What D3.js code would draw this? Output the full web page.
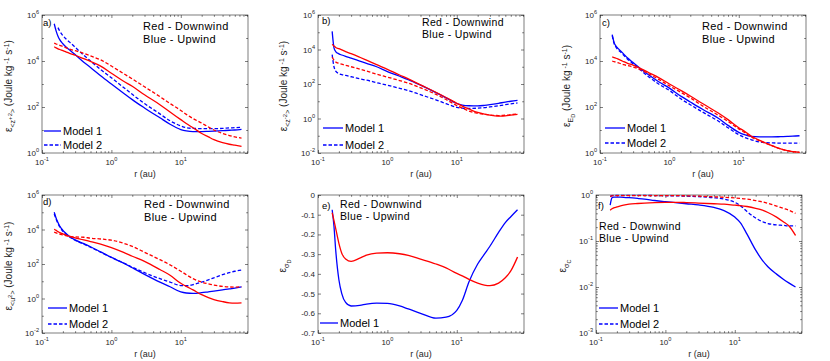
<!DOCTYPE html>
<html><head><meta charset="utf-8">
<script src="https://cdn.jsdelivr.net/npm/d3@7"></script>
<style>
body{margin:0;background:#fff}
svg{display:block}
text{font-family:"Liberation Sans",Arial,Helvetica,sans-serif}
</style>
</head><body>
<svg id="c" width="830" height="361"></svg>
<script>
// ---------------- data ----------------
// heliocentric distance r (au)
const R = [0.15,0.16,0.17,0.18,0.2,0.22,0.25,0.3,0.4,0.5,0.7,1,1.5,2,3,5,7,10,12,15,20,25,30,40,50,60,75];
const xTickExps = [-1, 0, 1];

// log10 of epsilon values (Up = blue / upwind, Dn = red / downwind)
const aUp1 = [5.62,5.3,5.08,4.93,4.75,4.62,4.48,4.28,3.95,3.72,3.36,3.0,2.6,2.32,1.96,1.53,1.25,1.02,0.96,0.93,0.93,0.94,0.95,0.97,0.99,1.0,1.03];
const aUp2 = [null,null,5.45,5.3,5.1,4.97,4.82,4.6,4.25,4.0,3.63,3.27,2.85,2.55,2.15,1.7,1.4,1.18,1.1,1.07,1.06,1.06,1.06,1.07,1.09,1.1,1.12];
const aDn1 = [4.62,4.57,4.53,4.5,4.45,4.4,4.33,4.25,4.1,3.98,3.78,3.47,3.12,2.9,2.53,2.1,1.78,1.45,1.28,1.1,0.85,0.7,0.58,0.45,0.38,0.34,0.29];
const aDn2 = [4.78,4.74,4.71,4.68,4.63,4.58,4.52,4.45,4.33,4.22,4.05,3.78,3.45,3.22,2.88,2.45,2.15,1.85,1.68,1.5,1.3,1.13,1.0,0.85,0.76,0.7,0.65];

const bUp1 = [null,5.05,4.1,3.88,3.75,3.68,3.6,3.5,3.33,3.2,3.0,2.72,2.45,2.25,1.93,1.5,1.2,0.87,0.78,0.74,0.73,0.76,0.8,0.88,0.95,1.0,1.05];
const bUp2 = [null,3.7,3.0,2.75,2.6,2.55,2.5,2.42,2.3,2.22,2.08,1.93,1.75,1.62,1.38,1.08,0.86,0.65,0.6,0.58,0.6,0.63,0.67,0.74,0.8,0.85,0.9];
const bDn1 = [null,4.3,4.2,4.12,4.05,3.98,3.88,3.76,3.55,3.38,3.12,2.85,2.52,2.3,1.95,1.52,1.22,0.88,0.72,0.55,0.35,0.25,0.19,0.14,0.15,0.19,0.24];
const bDn2 = [null,3.55,3.38,3.28,3.2,3.15,3.08,3.0,2.86,2.75,2.57,2.4,2.2,2.05,1.78,1.4,1.1,0.75,0.6,0.43,0.3,0.24,0.2,0.17,0.19,0.22,0.27];

const cUp1 = [5.15,4.8,4.65,4.56,4.43,4.3,4.13,3.93,3.62,3.4,3.1,2.82,2.45,2.22,1.9,1.52,1.2,0.9,0.8,0.72,0.7,0.7,0.7,0.71,0.72,0.73,0.75];
const cUp2 = [5.1,4.75,4.6,4.5,4.38,4.25,4.08,3.88,3.56,3.32,3.0,2.72,2.33,2.1,1.78,1.4,1.1,0.8,0.68,0.58,0.48,0.45,0.44,0.43,0.43,0.43,0.43];
const cDn1 = [4.18,4.15,4.12,4.09,4.03,3.97,3.9,3.82,3.65,3.5,3.28,3.0,2.7,2.48,2.15,1.75,1.45,1.1,0.95,0.74,0.55,0.42,0.32,0.18,0.1,0.06,0.03];
const cDn2 = [4.0,3.97,3.95,3.93,3.88,3.84,3.8,3.74,3.6,3.45,3.2,2.92,2.62,2.4,2.05,1.65,1.37,1.05,0.9,0.7,0.53,0.41,0.32,0.18,0.1,0.06,0.03];

const dUp1 = [5.0,4.65,4.4,4.2,3.95,3.78,3.6,3.4,3.18,3.0,2.7,2.38,2.05,1.78,1.4,0.95,0.68,0.38,0.32,0.3,0.34,0.39,0.43,0.5,0.56,0.6,0.67];
const dUp2 = [4.9,4.6,4.35,4.15,3.9,3.74,3.57,3.38,3.15,2.97,2.68,2.38,2.06,1.82,1.5,1.15,0.95,0.75,0.74,0.8,0.95,1.08,1.2,1.38,1.5,1.58,1.65];
const dDn1 = [4.02,3.95,3.88,3.82,3.75,3.68,3.6,3.52,3.4,3.3,3.15,2.95,2.67,2.45,2.15,1.68,1.35,0.88,0.7,0.5,0.22,0.05,-0.06,-0.18,-0.25,-0.27,-0.25];
const dDn2 = [3.85,3.8,3.76,3.73,3.69,3.65,3.6,3.57,3.55,3.5,3.45,3.38,3.2,3.02,2.68,2.25,1.95,1.58,1.38,1.15,0.95,0.85,0.78,0.7,0.67,0.66,0.68];

// panel e is linear
const eUp1 = [null,-0.075,-0.16,-0.28,-0.43,-0.5,-0.545,-0.563,-0.56,-0.553,-0.548,-0.55,-0.563,-0.578,-0.6,-0.625,-0.62,-0.585,-0.535,-0.44,-0.35,-0.3,-0.26,-0.19,-0.14,-0.11,-0.075];
const eDn1 = [null,-0.09,-0.13,-0.17,-0.245,-0.295,-0.325,-0.337,-0.32,-0.305,-0.295,-0.293,-0.298,-0.306,-0.325,-0.35,-0.37,-0.398,-0.41,-0.428,-0.447,-0.457,-0.46,-0.447,-0.42,-0.385,-0.315];

const fUp1 = [null,-0.22,-0.06,-0.045,-0.045,-0.047,-0.05,-0.058,-0.075,-0.09,-0.12,-0.145,-0.17,-0.19,-0.215,-0.27,-0.34,-0.48,-0.6,-0.85,-1.2,-1.42,-1.56,-1.72,-1.83,-1.91,-2.0];
const fUp2 = [null,-0.035,-0.015,-0.01,-0.01,-0.01,-0.01,-0.01,-0.01,-0.01,-0.012,-0.015,-0.02,-0.025,-0.035,-0.06,-0.09,-0.16,-0.23,-0.36,-0.5,-0.58,-0.62,-0.65,-0.66,-0.67,-0.67];
const fDn1 = [null,-0.33,-0.3,-0.28,-0.26,-0.24,-0.22,-0.2,-0.185,-0.175,-0.165,-0.16,-0.16,-0.165,-0.175,-0.19,-0.2,-0.22,-0.23,-0.25,-0.29,-0.33,-0.38,-0.48,-0.58,-0.67,-0.88];
const fDn2 = [null,-0.03,-0.02,-0.015,-0.012,-0.012,-0.012,-0.012,-0.012,-0.012,-0.012,-0.012,-0.015,-0.018,-0.025,-0.04,-0.05,-0.065,-0.075,-0.09,-0.12,-0.15,-0.18,-0.24,-0.29,-0.33,-0.4];

const eTicks = [0,-0.1,-0.2,-0.3,-0.4,-0.5,-0.6,-0.7];
const legendLabels = ["Model 1", "Model 2"];
const windLabels = ["Red - Downwind", "Blue - Upwind"];

// ---------------- layout / styles ----------------
const W = 206, H = 138;
const RED = "#ff0000", BLUE = "#0000ff";
const svg = d3.select("#c");

const JU = [{t:" (Joule kg",s:0,f:1},{t:" -1",s:-3.5,f:0.7},{t:" s",s:0,f:1},{t:"-1",s:-3.5,f:0.7},{t:")",s:0,f:1}];
const panels = [
 {k:"a", x0:42, y0:15, log:true, ydom:[1,1e6], ymaj:[0,2,4,6], ymin:[1,3,5],
  ser:[[aUp1,BLUE,0],[aUp2,BLUE,1],[aDn1,RED,0],[aDn2,RED,1]],
  ylab:[{t:"ε",s:0,f:1},{t:"<z",s:2.8,f:0.7},{t:"+2",s:-0.5,f:0.6},{t:">",s:2.8,f:0.7}].concat(JU), ylx:-30,
  let:[1,11], wind:[101,15,28,11], leg:{x:2,len:17,y:[116,130],n:2}},
 {k:"b", x0:318, y0:15, log:true, ydom:[1e-2,1e6], ymaj:[-2,0,2,4,6], ymin:[-1,1,3,5],
  ser:[[bUp1,BLUE,0],[bUp2,BLUE,1],[bDn1,RED,0],[bDn2,RED,1]],
  ylab:[{t:"ε",s:0,f:1},{t:"<z",s:2.8,f:0.7},{t:"-2",s:-0.5,f:0.6},{t:">",s:2.8,f:0.7}].concat(JU), ylx:-31,
  let:[4,8.5], wind:[104,11,23.3,10.5], leg:{x:5,len:20,y:[113,130],n:2}},
 {k:"c", x0:600, y0:15, log:true, ydom:[1,1e6], ymaj:[0,2,4,6], ymin:[1,3,5],
  ser:[[cUp1,BLUE,0],[cUp2,BLUE,1],[cDn1,RED,0],[cDn2,RED,1]],
  ylab:[{t:"ε",s:0,f:1},{t:"E",s:2.8,f:0.7},{t:"D",s:4.5,f:0.55}].concat(JU), ylx:-30,
  let:[2,11], wind:[102,15,28,11], leg:{x:5,len:20,y:[113,128],n:2}},
 {k:"d", x0:42, y0:195, log:true, ydom:[1e-2,1e6], ymaj:[-2,0,2,4,6], ymin:[-1,1,3,5],
  ser:[[dUp1,BLUE,0],[dUp2,BLUE,1],[dDn1,RED,0],[dDn2,RED,1]],
  ylab:[{t:"ε",s:0,f:1},{t:"<u",s:2.8,f:0.7},{t:"2",s:-0.5,f:0.6},{t:">",s:2.8,f:0.7}].concat(JU), ylx:-30,
  let:[1,10], wind:[102,12.5,25.5,11], leg:{x:6,len:19,y:[113,129],n:2}},
 {k:"e", x0:318, y0:195, log:false, ydom:[-0.7,0], ymaj:eTicks, ymin:[],
  ser:[[eUp1,BLUE,0],[eDn1,RED,0]],
  ylab:[{t:"ε",s:0,f:1},{t:"σ",s:2.8,f:0.7},{t:"D",s:4.5,f:0.55}], ylx:-32,
  let:[4,13.5], wind:[22,13,25.3,10.5], leg:{x:2,len:18,y:[128],n:1}},
 {k:"f", x0:596, y0:195, log:true, ydom:[1e-3,1], ymaj:[-3,-2,-1,0], ymin:[],
  ser:[[fUp1,BLUE,0],[fUp2,BLUE,1],[fDn1,RED,0],[fDn2,RED,1]],
  ylab:[{t:"ε",s:0,f:1},{t:"σ",s:2.8,f:0.7},{t:"C",s:4.5,f:0.55}], ylx:-30,
  let:[2,13.5], wind:[3,35,47.3,10.5], leg:{x:3,len:19,y:[113,129],n:2}},
];

const AX = "#262626";
const TICKF = 8;

function pow10(sel, e, size) {
  sel.append("tspan").text("10");
  sel.append("tspan").attr("font-size", size*0.7).attr("dy", -size*0.45).text(e);
}

function rich(textSel, parts, base) {
  let prev = 0;
  parts.forEach(p => {
    textSel.append("tspan").attr("dy", p.s - prev).attr("font-size", base*p.f).text(p.t);
    prev = p.s;
  });
}

panels.forEach(p => {
  const g = svg.append("g");
  const x = d3.scaleLog().domain([0.1, 93]).range([p.x0, p.x0 + W]);
  const y = (p.log ? d3.scaleLog() : d3.scaleLinear()).domain(p.ydom).range([p.y0 + H, p.y0]);
  const yv = v => p.log ? Math.pow(10, v) : v;

  // x ticks (major + minor), inward on bottom and top
  const xMaj = xTickExps.map(e => Math.pow(10, e));
  const xMin = [];
  xTickExps.forEach(e => { for (let k = 2; k <= 9; k++) { const v = k * Math.pow(10, e); if (v < 93) xMin.push(v); } });
  const axStyle = s => { s.select(".domain").remove(); s.selectAll("line").attr("stroke", AX).attr("stroke-width", 0.6); s.selectAll("text").remove(); };
  g.append("g").attr("transform", `translate(0,${p.y0+H})`).call(d3.axisBottom(x).tickValues(xMaj).tickSizeInner(-3).tickSizeOuter(0)).call(axStyle);
  g.append("g").attr("transform", `translate(0,${p.y0+H})`).call(d3.axisBottom(x).tickValues(xMin).tickSizeInner(-1.8).tickSizeOuter(0)).call(axStyle);
  g.append("g").attr("transform", `translate(0,${p.y0})`).call(d3.axisTop(x).tickValues(xMaj).tickSizeInner(-3).tickSizeOuter(0)).call(axStyle);
  g.append("g").attr("transform", `translate(0,${p.y0})`).call(d3.axisTop(x).tickValues(xMin).tickSizeInner(-1.8).tickSizeOuter(0)).call(axStyle);

  // y ticks
  let yMaj, yMin;
  if (p.log) {
    yMaj = p.ymaj.map(e => Math.pow(10, e));
    yMin = p.ymin.map(e => Math.pow(10, e));
    if (p.k === "f") { yMin = []; p.ymaj.forEach(e => { for (let k = 2; k <= 9; k++) { const v = k*Math.pow(10,e); if (v < 1) yMin.push(v);} }); }
  } else { yMaj = p.ymaj; yMin = []; }
  g.append("g").attr("transform", `translate(${p.x0},0)`).call(d3.axisLeft(y).tickValues(yMaj).tickSizeInner(-3).tickSizeOuter(0)).call(axStyle);
  g.append("g").attr("transform", `translate(${p.x0+W},0)`).call(d3.axisRight(y).tickValues(yMaj).tickSizeInner(-3).tickSizeOuter(0)).call(axStyle);
  if (yMin.length) {
    g.append("g").attr("transform", `translate(${p.x0},0)`).call(d3.axisLeft(y).tickValues(yMin).tickSizeInner(-1.8).tickSizeOuter(0)).call(axStyle);
    g.append("g").attr("transform", `translate(${p.x0+W},0)`).call(d3.axisRight(y).tickValues(yMin).tickSizeInner(-1.8).tickSizeOuter(0)).call(axStyle);
  }

  // box
  g.append("rect").attr("x", p.x0).attr("y", p.y0).attr("width", W).attr("height", H)
    .attr("fill", "none").attr("stroke", AX).attr("stroke-width", 0.6);

  // x tick labels
  xTickExps.forEach(e => {
    const t = g.append("text").attr("x", x(Math.pow(10, e))).attr("y", p.y0 + H + 12)
      .attr("text-anchor", "middle").attr("font-size", TICKF).attr("fill", AX);
    pow10(t, e, TICKF);
  });
  // y tick labels
  p.ymaj.forEach(e => {
    const v = p.log ? Math.pow(10, e) : e;
    const t = g.append("text").attr("x", p.x0 - 3).attr("y", y(v) + 3)
      .attr("text-anchor", "end").attr("font-size", TICKF).attr("fill", AX);
    if (p.log) pow10(t, e, TICKF); else t.text(e === 0 ? "0" : e.toFixed(1));
  });

  // axis labels
  g.append("text").attr("x", p.x0 + W/2).attr("y", p.y0 + H + 23.5).attr("text-anchor", "middle")
    .attr("font-size", 9).attr("fill", AX).text("r (au)");
  const yl = g.append("text").attr("text-anchor", "middle").attr("fill", AX).attr("font-size", 10)
    .attr("transform", `translate(${p.x0 + p.ylx},${p.y0 + H/2 + 2}) rotate(-90)`);
  rich(yl, p.ylab, 10);

  // series
  const line = d3.line().defined(d => d[1] !== null).x(d => x(d[0])).y(d => y(yv(d[1]))).curve(d3.curveMonotoneX);
  p.ser.forEach(([arr, col, dashed]) => {
    g.append("path").datum(R.map((r, i) => [r, arr[i]])).attr("d", line)
      .attr("fill", "none").attr("stroke", col).attr("stroke-width", 1.3)
      .attr("stroke-dasharray", dashed ? "3.5,2" : null);
  });

  // panel letter
  g.append("text").attr("x", p.x0 + p.let[0]).attr("y", p.y0 + p.let[1]).attr("font-size", 9.5).text(p.k + ")");
  // wind labels
  const wf = p.wind[3];
  g.append("text").attr("x", p.x0 + p.wind[0]).attr("y", p.y0 + p.wind[1]).attr("font-size", wf).attr("letter-spacing", 0.35).text(windLabels[0]);
  g.append("text").attr("x", p.x0 + p.wind[0]).attr("y", p.y0 + p.wind[2]).attr("font-size", wf).attr("letter-spacing", 0.35).text(windLabels[1]);
  // legend
  for (let i = 0; i < p.leg.n; i++) {
    const ly = p.y0 + p.leg.y[i];
    g.append("line").attr("x1", p.x0 + p.leg.x).attr("x2", p.x0 + p.leg.x + p.leg.len).attr("y1", ly).attr("y2", ly)
      .attr("stroke", BLUE).attr("stroke-width", 1.3).attr("stroke-dasharray", i ? "3.5,2" : null);
    g.append("text").attr("x", p.x0 + p.leg.x + p.leg.len + 2).attr("y", ly + 4).attr("font-size", 11).text(legendLabels[i]);
  }
});
</script>
</body></html>
